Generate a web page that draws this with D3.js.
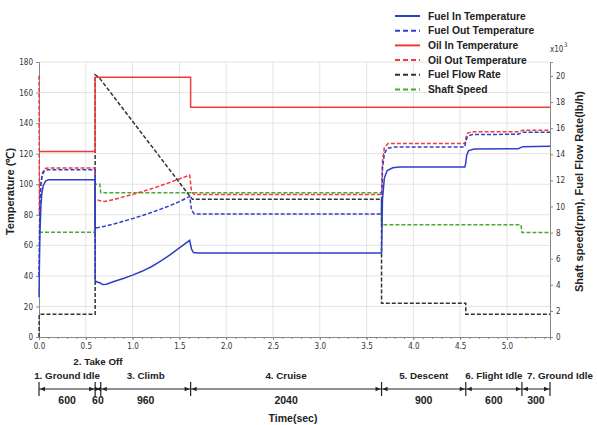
<!DOCTYPE html>
<html>
<head>
<meta charset="utf-8">
<script src="https://cdn.jsdelivr.net/npm/d3@7"></script>
<style>
    body { margin: 0; background: #fff; }
    svg { display: block; }
    .tick text { font-family: "DejaVu Sans Condensed", "DejaVu Sans", sans-serif; font-size: 8px; fill: #333; }
    .lbl { font-family: "Liberation Sans", Arial, sans-serif; font-weight: bold; fill: #222; }
</style>
</head>
<body>
<svg width="597" height="425"></svg>
<script>
let width = 597;
let height = 425;

let margin = {
    top: 62,
    right: 47,
    bottom: 88,
    left: 39
};

// series as [time (x10^3 sec), value]
let fuelIn = [[0, 26], [0.005, 50], [0.01, 68], [0.02, 85], [0.03, 94], [0.045, 99], [0.07, 102], [0.1, 103],
    [0.6, 103], [0.6, 37], [0.62, 36], [0.65, 35.5], [0.68, 34.3], [0.72, 34.5], [0.8, 36.3], [0.9, 38.3],
    [1.0, 40.5], [1.1, 43], [1.2, 46], [1.3, 49.6], [1.4, 53.8], [1.5, 58.3], [1.61, 63.3], [1.63, 57.5],
    [1.65, 55.3], [1.7, 55], [3.66, 55], [3.67, 90], [3.69, 104], [3.72, 109], [3.78, 110.8], [3.85, 111.2],
    [4.55, 111.2], [4.56, 114], [4.57, 119], [4.59, 122], [4.65, 123], [5.12, 123.2], [5.17, 124.6], [5.46, 124.8]];

let fuelOut = [[0, 40], [0.005, 70], [0.01, 88], [0.02, 100], [0.035, 106], [0.06, 109], [0.1, 109.5],
    [0.6, 109.5], [0.6, 71.3], [0.7, 72.5], [0.8, 74], [0.9, 75.7], [1.0, 77.5], [1.1, 79.4], [1.2, 81.5],
    [1.3, 83.7], [1.4, 86], [1.5, 88.6], [1.61, 92], [1.63, 83], [1.66, 80.5], [3.66, 80.5], [3.67, 110],
    [3.69, 120], [3.72, 123.5], [3.8, 124.4], [4.55, 124.4], [4.56, 128], [4.58, 131.5], [4.63, 132.5],
    [5.12, 132.7], [5.17, 134], [5.46, 134]];

let oilIn = [[0, 121.5], [0.6, 121.5], [0.6, 170], [1.62, 170], [1.62, 150.4], [5.46, 150.4]];

let oilOut = [[0, 171], [0.004, 80], [0.01, 90], [0.02, 100], [0.035, 107], [0.06, 110.3], [0.1, 110.6],
    [0.6, 110.6], [0.6, 90.3], [0.66, 89], [0.7, 88.7], [0.8, 90], [1.0, 93.3], [1.2, 97], [1.4, 101.2],
    [1.61, 106], [1.63, 95], [1.66, 93.2], [3.66, 93.2], [3.67, 115], [3.69, 124], [3.73, 126.6],
    [4.55, 126.6], [4.56, 130], [4.58, 133.5], [4.63, 134.3], [5.12, 134.4], [5.17, 135.3], [5.46, 135.3]];

// right axis, x10^3
let fuelFlow = [[0, 0], [0.002, 1.74], [0.6, 1.74], [0.6, 20.1], [0.64, 19.9], [1.6, 10.9], [1.64, 10.55],
    [3.66, 10.55], [3.66, 2.58], [4.56, 2.58], [4.56, 1.74], [5.46, 1.74]];

let shaftSpeed = [[0, 8.02], [0.6, 8.02], [0.6, 11.7], [0.65, 11.7], [0.66, 11.05], [3.66, 11.05],
    [3.66, 8.6], [5.15, 8.6], [5.16, 8.0], [5.46, 8.0]];

let xTicks = [0, 0.5, 1.0, 1.5, 2.0, 2.5, 3.0, 3.5, 4.0, 4.5, 5.0];
let yTicks = [0, 20, 40, 60, 80, 100, 120, 140, 160, 180];
let y2Ticks = [0, 2, 4, 6, 8, 10, 12, 14, 16, 18, 20];

let phaseNames = ["1. Ground Idle", "2. Take Off", "3. Climb", "4. Cruise", "5. Descent", "6. Flight Idle", "7. Ground Idle"];
let phaseDurations = [600, 60, 960, 2040, 900, 600, 300];

let svg = d3.select("svg");

let x = d3.scaleLinear()
    .domain([0, 5.46])
    .range([margin.left, width - margin.right]);

let y = d3.scaleLinear()
    .domain([0, 180])
    .range([height - margin.bottom, margin.top]);

let y2 = d3.scaleLinear()
    .domain([0, 21.07])
    .range([height - margin.bottom, margin.top]);

// grid
svg.append("g")
    .selectAll("line")
    .data(xTicks.slice(1))
    .join("line")
    .attr("x1", d => x(d)).attr("x2", d => x(d))
    .attr("y1", y(0)).attr("y2", y(180))
    .style("stroke", "#e4e4e4");

svg.append("g")
    .selectAll("line")
    .data(yTicks.slice(1))
    .join("line")
    .attr("x1", x(0)).attr("x2", x(5.46))
    .attr("y1", d => y(d)).attr("y2", d => y(d))
    .style("stroke", "#e4e4e4");

// axes
svg.append("g")
    .attr("transform", `translate(0,${y(0)})`)
    .call(d3.axisBottom(x).tickValues(xTicks).tickFormat(d3.format(".1f")).tickSize(3).tickPadding(3));

svg.append("g")
    .attr("transform", `translate(0,${y(0)})`)
    .call(d3.axisBottom(x).tickValues(d3.range(0.1, 5.46, 0.1)).tickFormat("").tickSize(2))
    .select(".domain").remove();

svg.append("g")
    .attr("transform", `translate(${x(0)},0)`)
    .call(d3.axisLeft(y).tickValues(yTicks).tickSize(3).tickPadding(3));

svg.append("g")
    .attr("transform", `translate(${x(5.46)},0)`)
    .call(d3.axisRight(y2).tickValues(y2Ticks).tickSize(3).tickPadding(3));

svg.selectAll(".domain").style("stroke", "#888");
svg.selectAll(".tick line").style("stroke", "#888");

// x10^3 marker
svg.append("text")
    .attr("x", x(5.46))
    .attr("y", 52)
    .style("font-family", "DejaVu Sans Condensed, sans-serif")
    .style("font-size", "8px")
    .style("fill", "#333")
    .text("x10");
svg.append("text")
    .attr("x", x(5.46) + 14)
    .attr("y", 47)
    .style("font-family", "DejaVu Sans Condensed, sans-serif")
    .style("font-size", "6px")
    .style("fill", "#333")
    .text("3");

// lines
let lineL = d3.line().x(d => x(d[0])).y(d => y(d[1]));
let lineR = d3.line().x(d => x(d[0])).y(d => y2(d[1]));

let series = [
    {name: "Fuel In Temperature", data: fuelIn, line: lineL, color: "#2f3fc8", dash: null},
    {name: "Fuel Out Temperature", data: fuelOut, line: lineL, color: "#2f3fc8", dash: "4,2"},
    {name: "Oil In Temperature", data: oilIn, line: lineL, color: "#f23a3a", dash: null},
    {name: "Oil Out Temperature", data: oilOut, line: lineL, color: "#f23a3a", dash: "4,2"},
    {name: "Fuel Flow Rate", data: fuelFlow, line: lineR, color: "#333333", dash: "4,2"},
    {name: "Shaft Speed", data: shaftSpeed, line: lineR, color: "#4aa832", dash: "4,2"}
];

// draw order: back to front
[5, 4, 3, 1, 2, 0].forEach(i => {
    let s = series[i];
    svg.append("path")
        .attr("d", s.line(s.data))
        .style("fill", "none")
        .style("stroke", s.color)
        .style("stroke-width", "1.5px")
        .style("stroke-dasharray", s.dash);
});

// legend
let legend = svg.append("g")
    .selectAll("g")
    .data(series)
    .join("g")
    .attr("transform", (d, i) => `translate(395,${16 + i * 14.7})`);

legend.append("line")
    .attr("x1", 0).attr("x2", 25)
    .style("stroke", d => d.color)
    .style("stroke-width", "2px")
    .style("stroke-dasharray", d => d.dash ? "5,3" : null);

legend.append("text")
    .attr("class", "lbl")
    .attr("x", 33)
    .attr("dy", "0.35em")
    .style("font-size", "10.3px")
    .text(d => d.name);

// axis titles
svg.append("text")
    .attr("class", "lbl")
    .attr("transform", `translate(14,${y(90) - 8}) rotate(-90)`)
    .attr("text-anchor", "middle")
    .style("font-size", "11px")
    .text("Temperature (\u2103)");

svg.append("text")
    .attr("class", "lbl")
    .attr("transform", `translate(583,${y(90) - 8}) rotate(-90)`)
    .attr("text-anchor", "middle")
    .style("font-size", "11px")
    .text("Shaft speed(rpm), Fuel Flow Rate(lb/h)");

// flight phases below the axis
let bounds = [0];
phaseDurations.forEach(d => bounds.push(bounds[bounds.length - 1] + d / 1000));

let phaseY = 389;
let ann = svg.append("g");

ann.append("line")
    .attr("x1", x(0)).attr("x2", x(bounds[bounds.length - 1]))
    .attr("y1", phaseY).attr("y2", phaseY)
    .style("stroke", "#222")
    .style("stroke-width", "1.2px");

ann.selectAll(".bnd")
    .data(bounds)
    .join("line")
    .attr("x1", d => x(d)).attr("x2", d => x(d))
    .attr("y1", phaseY - 7).attr("y2", phaseY + 7)
    .style("stroke", "#222")
    .style("stroke-width", "1.2px");

// arrow heads pointing at each boundary
let heads = [];
for (let i = 0; i < phaseDurations.length; i++) {
    heads.push({at: bounds[i], dir: 1});
    heads.push({at: bounds[i + 1], dir: -1});
}
ann.selectAll("path")
    .data(heads)
    .join("path")
    .attr("d", d => {
        let px = x(d.at) + d.dir;
        return `M${px},${phaseY} L${px + d.dir * 5},${phaseY - 2.2} L${px + d.dir * 5},${phaseY + 2.2} Z`;
    })
    .style("fill", "#222");

ann.selectAll(".pname")
    .data(phaseNames)
    .join("text")
    .attr("class", "lbl")
    .attr("x", (d, i) => i == 6 ? 527 : x((bounds[i] + bounds[i + 1]) / 2))
    .attr("y", (d, i) => i == 1 ? 365 : 379)
    .attr("text-anchor", (d, i) => i == 6 ? "start" : "middle")
    .style("font-size", "9.8px")
    .text(d => d);

ann.selectAll(".pdur")
    .data(phaseDurations)
    .join("text")
    .attr("class", "lbl")
    .attr("x", (d, i) => x((bounds[i] + bounds[i + 1]) / 2))
    .attr("y", 404)
    .attr("text-anchor", "middle")
    .style("font-size", "10.5px")
    .text(d => d);

svg.append("text")
    .attr("class", "lbl")
    .attr("x", 293)
    .attr("y", 422)
    .attr("text-anchor", "middle")
    .style("font-size", "10.5px")
    .text("Time(sec)");
</script>
</body>
</html>
